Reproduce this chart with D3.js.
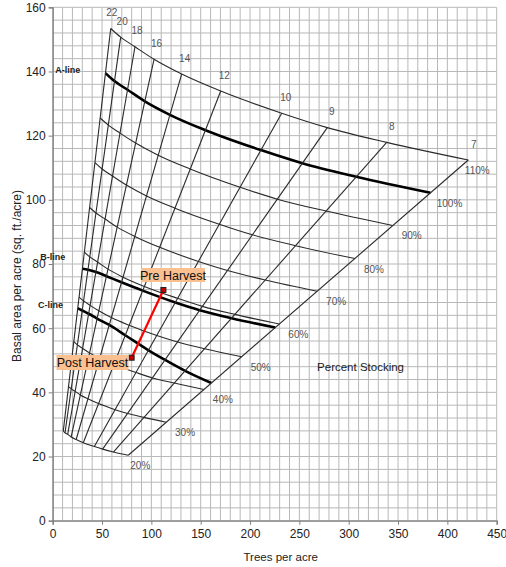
<!DOCTYPE html>
<html><head><meta charset="utf-8">
<script src="https://cdn.jsdelivr.net/npm/d3@7"></script>
<style>
html,body{margin:0;padding:0;background:#fff;}
svg{display:block;font-family:"Liberation Sans",Arial,sans-serif;}
</style></head>
<body><svg id="c" width="506" height="567"></svg>
<script>
// Quadratic mean diameters (inches), from top-left to right
const diameters = [22,20,18,16,14,12,10,9,8,7];
const stockingLabels = ["20%","30%","40%","50%","60%","70%","80%","90%","100%","110%"];
const xTicks = [0,50,100,150,200,250,300,350,400,450];
const yTicks = [0,20,40,60,80,100,120,140,160];
// [trees per acre, basal area] at each diameter, per stocking level
const s20  = [[10.7,27.9],[12.5,27.4],[15.2,26.9],[18.7,26.1],[23.8,25.3],[31.0,24.3],[42.2,23.1],[50.6,22.3],[61.5,21.4],[76.6,20.4]];
const s30  = [[16.0,41.8],[18.8,41.1],[22.7,40.3],[28.0,39.2],[35.6,38.0],[46.4,36.5],[63.3,34.6],[75.9,33.4],[92.3,32.2],[114.9,30.7]];
const s40  = [[21.4,55.8],[25.1,54.8],[30.3,53.7],[37.3,52.3],[47.5,50.6],[61.9,48.7],[84.4,46.2],[101.2,44.5],[123.1,42.9],[153.2,40.9]];
const s50  = [[26.7,69.7],[31.3,68.5],[37.9,67.1],[46.7,65.4],[59.4,63.3],[77.4,60.9],[105.5,57.7],[126.5,55.7],[153.9,53.6],[191.5,51.1]];
const s60  = [[32.1,83.7],[37.6,82.2],[45.5,80.6],[56.0,78.4],[71.3,75.9],[92.9,73.0],[126.6,69.3],[151.8,66.8],[184.6,64.3],[229.7,61.3]];
const s70  = [[37.4,97.6],[43.8,95.9],[53.1,94.0],[65.4,91.5],[83.2,88.6],[108.4,85.2],[147.7,80.8],[177.1,78.0],[215.4,75.0],[268.0,71.5]];
const s80  = [[42.8,111.6],[50.1,109.6],[60.7,107.4],[74.7,104.6],[95.1,101.2],[123.9,97.4],[168.8,92.4],[202.4,89.1],[246.2,85.7],[306.3,81.7]];
const s90  = [[48.1,125.5],[56.4,123.3],[68.2,120.8],[84.0,117.7],[106.9,113.9],[139.3,109.6],[189.9,103.9],[227.7,100.2],[277.0,96.5],[344.6,92.0]];
const s100 = [[53.5,139.5],[62.6,137.0],[75.8,134.3],[93.4,130.7],[118.8,126.5],[154.8,121.7],[211.0,115.5],[253.0,111.4],[307.7,107.2],[382.9,102.2]];
const s110 = [[58.8,153.4],[68.9,150.7],[83.4,147.7],[102.7,143.8],[130.7,139.2],[170.3,133.9],[232.1,127.0],[278.3,122.5],[338.5,117.9],[421.2,112.4]];
const bLine = [[30.1,78.5],[35.8,78.2],[43.9,77.5],[54.5,76.2],[69.7,74.3],[91.2,71.7],[124.3,68.0],[149.0,65.6],[181.3,63.1],[225.6,60.2]];
const cLine = [[25.4,66.2],[29.9,65.5],[36.4,64.5],[45.0,63.0],[57.3,61.0],[73.5,57.8],[97.1,53.1],[113.9,50.1],[134.2,46.7],[160.8,42.9]];
const harvestNames = ["Pre Harvest","Post Harvest"];
const harvestPoints = [[112.2,71.9],[80.0,50.8]];

const levels = [s20,s30,s40,s50,s60,s70,s80,s90,s100,s110];
const svg = d3.select("#c");
const x = d3.scaleLinear().domain([0,450]).range([52.7,496.7]);
const y = d3.scaleLinear().domain([0,160]).range([520.7,7.3]);

// grid
const g = svg.append("g");
g.selectAll("line.gx").data(d3.range(0,451,10)).join("line")
  .attr("x1",d=>x(d)).attr("x2",d=>x(d)).attr("y1",y(0)).attr("y2",y(160))
  .attr("stroke","#b8b8b8").attr("stroke-width",1);
g.selectAll("line.gy").data(d3.range(0,161,4)).join("line")
  .attr("y1",d=>y(d)).attr("y2",d=>y(d)).attr("x1",x(0)).attr("x2",x(450))
  .attr("stroke","#b8b8b8").attr("stroke-width",1);

// axes
const xa = svg.append("g").attr("transform",`translate(0,${y(0)})`)
  .call(d3.axisBottom(x).tickValues(xTicks).tickSize(4).tickPadding(5));
const ya = svg.append("g").attr("transform",`translate(${x(0)},0)`)
  .call(d3.axisLeft(y).tickValues(yTicks).tickSize(4).tickPadding(3));
[xa,ya].forEach(a=>{
  a.select(".domain").attr("stroke","#7f7f7f").attr("stroke-width",1.3);
  a.selectAll(".tick line").attr("stroke","#7f7f7f");
  a.selectAll(".tick text").attr("fill","#222").style("font-size","12px").style("font-family","Liberation Sans, Arial, sans-serif");
});

const line = d3.line().x(d=>x(d[0])).y(d=>y(d[1])).curve(d3.curveMonotoneX);

// stocking curves
levels.forEach((lv,i)=>{
  svg.append("path").attr("d",line(lv)).attr("fill","none")
    .attr("stroke", i===8 ? "#000" : "#2a2a2a")
    .attr("stroke-width", i===8 ? 2.6 : 1.1);
});
[bLine,cLine].forEach(lv=>{
  svg.append("path").attr("d",line(lv)).attr("fill","none")
    .attr("stroke","#000").attr("stroke-width",2.6);
});
// diameter lines
diameters.forEach((d,i)=>{
  svg.append("line").attr("x1",x(s20[i][0])).attr("y1",y(s20[i][1]))
    .attr("x2",x(s110[i][0])).attr("y2",y(s110[i][1]))
    .attr("stroke","#2a2a2a").attr("stroke-width",1.1);
});
// diameter labels
diameters.forEach((d,i)=>{
  svg.append("text").attr("x",x(s110[i][0])+1+i*0.5).attr("y",y(s110[i][1])-12.5)
    .attr("text-anchor","middle").attr("fill","#555").style("font-size","10px").text(d);
});
// stocking labels
levels.forEach((lv,i)=>{
  const p = lv[lv.length-1];
  const dx = i===9 ? 9 : (i===0 ? 12 : 19);
  svg.append("text").attr("x",x(p[0])+dx).attr("y",y(p[1])+14)
    .attr("text-anchor","middle").attr("fill","#555").style("font-size","10px").text(stockingLabels[i]);
});
// line names
svg.append("text").attr("x",x(2.5)).attr("y",y(139.5)).attr("fill","#222")
  .style("font-size","9px").style("font-weight","bold").text("A-line");
svg.append("text").attr("x",x(-12.5)).attr("y",y(81.2)).attr("fill","#222")
  .style("font-size","9px").style("font-weight","bold").text("B-line");
svg.append("text").attr("x",x(-15)).attr("y",y(66.2)).attr("fill","#222")
  .style("font-size","9px").style("font-weight","bold").text("C-line");
svg.append("text").attr("x",x(312)).attr("y",y(46.5)).attr("text-anchor","middle")
  .attr("fill","#222").style("font-size","11.5px").text("Percent Stocking");

// harvest path
svg.append("line").attr("x1",x(harvestPoints[0][0])).attr("y1",y(harvestPoints[0][1]))
  .attr("x2",x(harvestPoints[1][0])).attr("y2",y(harvestPoints[1][1]))
  .attr("stroke","#ff0000").attr("stroke-width",2.2);
harvestPoints.forEach(p=>{
  svg.append("rect").attr("x",x(p[0])-2.5).attr("y",y(p[1])-2.5).attr("width",5).attr("height",5)
    .attr("fill","#c00000").attr("stroke","#222").attr("stroke-width",1);
});
// harvest labels
const labelBox = [{cx:173,cy:275,w:64,h:14},{cx:92.5,cy:362.5,w:72,h:15}];
harvestNames.forEach((n,i)=>{
  const b = labelBox[i];
  svg.append("rect").attr("x",b.cx-b.w/2).attr("y",b.cy-b.h/2).attr("width",b.w).attr("height",b.h)
    .attr("fill","#fac090");
  svg.append("text").attr("x",b.cx).attr("y",b.cy+4.5).attr("text-anchor","middle")
    .attr("fill","#111").style("font-size","12.5px").text(n);
});

// axis titles
svg.append("text").attr("x",x(225)+6).attr("y",561).attr("text-anchor","middle")
  .attr("fill","#222").style("font-size","11.5px").text("Trees per acre");
svg.append("text").attr("transform",`translate(21,${276}) rotate(-90)`).attr("text-anchor","middle")
  .attr("fill","#222").style("font-size","12px").text("Basal area per acre (sq. ft./acre)");
</script></body></html>
